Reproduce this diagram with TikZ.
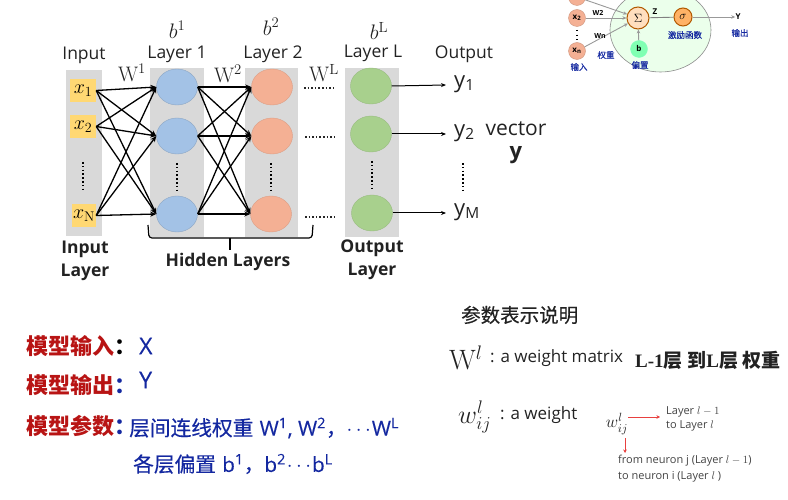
\documentclass[tikz,border=0pt]{standalone}
\usepackage{fix-cm}
\usepackage{fontspec}
\setsansfont{Open Sans}
\newfontfamily\cjk{Noto Sans CJK SC}
\newfontfamily\cjkm[FakeBold=0.35]{Noto Sans CJK SC}
\newfontfamily\opensm[FakeBold=0.35]{Open Sans}
\newfontfamily\serifb{Liberation Serif}
\usetikzlibrary{shapes.geometric,arrows.meta}
\newcommand{\fs}[1]{\fontsize{#1}{#1}\selectfont}
\definecolor{panel}{HTML}{D9D9D9}
\definecolor{bluefill}{HTML}{A3C2E6}
\definecolor{orangefill}{HTML}{F4B094}
\definecolor{greenfill}{HTML}{A8D08D}
\definecolor{yellowfill}{HTML}{FFD873}
\definecolor{redtxt}{HTML}{B81414}
\definecolor{bluetxt}{HTML}{1428A0}
\definecolor{inktxt}{HTML}{222222}
\definecolor{redline}{HTML}{E8403F}
\tikzset{
  panelbox/.style={fill=panel,draw=none},
  neuron/.style={ellipse,minimum width=41pt,minimum height=36pt,inner sep=0pt},
  bluen/.style={neuron,fill=bluefill,draw=bluefill!85!black},
  orangen/.style={neuron,fill=orangefill,draw=orangefill!90!black},
  greenn/.style={neuron,fill=greenfill,draw=greenfill!90!black},
  inbox/.style={fill=yellowfill,draw=none,minimum width=26pt,minimum height=23pt,inner sep=0pt,font=\fs{20}},
  lab/.style={inner sep=0pt,font=\sffamily\fs{17.5},text=inktxt},
  blab/.style={inner sep=0pt,font=\sffamily\bfseries\fs{17.5},text=inktxt},
  mth/.style={inner sep=0pt,font=\fs{21},text=inktxt},
  link/.style={black,line width=1.3pt,-{Stealth[length=6pt,width=5pt]}},
  outlink/.style={black,line width=1pt,-{Stealth[length=5pt,width=4pt]}},
  vdots/.style={black,line width=1.6pt,dash pattern=on 1.6pt off 2.2pt},
  hdots/.style={black!85,line width=1.3pt,dash pattern=on 1.5pt off 2.1pt},
  redtitle/.style={inner sep=0pt,anchor=west,font=\cjk\bfseries\fs{22},text=redtxt},
  bluetext/.style={inner sep=0pt,anchor=west,font=\fs{20.7},text=bluetxt},
  sm/.style={inner sep=0pt,anchor=west,font=\sffamily\fs{11},text=inktxt!85},
  tinyblue/.style={inner sep=0pt,font=\cjkm\fs{8.5},text=bluetxt},
  tinyn/.style={circle,inner sep=0pt,minimum size=17pt,fill=orangefill,draw=orangefill!85!black,font=\sffamily\bfseries\fs{8}},
  tinylink/.style={black!40,line width=0.9pt,-{Stealth[length=4pt,width=3.5pt]}},
  redarrow/.style={redline,line width=1pt,-{Stealth[length=3.5pt,width=3.5pt]}},
}
\begin{document}
\begin{tikzpicture}[x=1pt,y=-1pt]
\useasboundingbox (0,0) rectangle (788,500);
\clip (0,0) rectangle (788,500);
% panels
\fill[panelbox] (66,70) rectangle (102,236);
\fill[panelbox] (150,68) rectangle (204,237);
\fill[panelbox] (245,68) rectangle (298,237);
\fill[panelbox] (345,68) rectangle (399,237);
% inputs
\node[inbox] (x1) at (83,90.5) {$x_1$};
\node[inbox] (x2) at (83,126.5) {$x_2$};
\node[inbox,minimum width=24pt] (xN) at (84,215.5) {$x_{\mathrm N}$};
% neurons
\node[bluen] (a1) at (177,87) {};
\node[bluen] (a2) at (177,136) {};
\node[bluen] (a3) at (177,214) {};
\node[orangen] (b1) at (272,87) {};
\node[orangen] (b2) at (272,136) {};
\node[orangen] (b3) at (271,214) {};
\node[greenn] (c1) at (371,86) {};
\node[greenn] (c2) at (371,134) {};
\node[greenn] (c3) at (372,213) {};
% connectors
\foreach \s in {x1,x2,xN}{\foreach \t in {a1,a2,a3}{\draw[link] (\s.east) -- (\t.west);}}
\foreach \s in {a1,a2,a3}{\foreach \t in {b1,b2,b3}{\draw[link] (\s.east) -- (\t.west);}}
% outputs
\node[inner sep=0pt,anchor=west,font=\sffamily\fs{22},text=inktxt] (y1) at (454,84) {y\textsubscript{1}};
\node[inner sep=0pt,anchor=west,font=\sffamily\fs{22},text=inktxt] (y2) at (454,133) {y\textsubscript{2}};
\node[inner sep=0pt,anchor=west,font=\sffamily\fs{22},text=inktxt] (yM) at (454,212) {y\textsubscript{M}};
\coordinate (e1) at (446,85);
\coordinate (e2) at (446,134);
\coordinate (e3) at (446,213);
\draw[outlink] (c1.east) -- (e1);
\draw[outlink] (c2.east) -- (e2);
\draw[outlink] (c3.east) -- (e3);
% dots
\draw[vdots] (83,162) -- (83,189);
\draw[vdots] (177,163) -- (177,190);
\draw[vdots] (271,163) -- (271,190);
\draw[vdots] (372,161) -- (372,188);
\draw[vdots] (463,163) -- (463,190);
\draw[hdots] (304,88) -- (335,88);
\draw[hdots] (305,137) -- (337,137);
\draw[hdots] (305,217) -- (337,217);
% brace
\draw[black,line width=1.2pt,rounded corners=3pt] (148,225) -- (149,238) -- (312,238) -- (313,225);
\draw[black,line width=1.2pt] (230,238) -- (230,250);
% headings
\node[lab] (hin) at (84,55) {Input};
\node[lab] (hl1) at (177,54) {Layer 1};
\node[lab] (hl2) at (273,54) {Layer 2};
\node[lab] (hll) at (373,53) {Layer L};
\node[lab] (hout) at (464,54) {Output};
\node[mth] (m1) at (177,30) {$b^{1}$};
\node[mth] (m2) at (271,27) {$b^{2}$};
\node[mth] (m3) at (379,31) {$b^{\mathrm L}$};
\node[mth] (w1) at (132,73) {$\mathrm{W}^{1}$};
\node[mth] (w2) at (228,74) {$\mathrm{W}^{2}$};
\node[mth] (w3) at (324,73) {$\mathrm{W}^{\mathrm L}$};
\node[blab] (il1) at (85,249) {Input};
\node[blab] (il2) at (85,272) {Layer};
\node[blab] (hid) at (228,262) {Hidden Layers};
\node[blab] (ol1) at (372,248) {Output};
\node[blab] (ol2) at (372,271) {Layer};
\node[inner sep=0pt,font=\sffamily\fs{21},text=inktxt] (vec) at (516,129) {vector};
\node[inner sep=0pt,font=\sffamily\bfseries\fs{22},text=inktxt] (vecy) at (516,155) {y};
% neuron sketch
\draw[draw=black!45,fill=green!8!white,line width=0.6pt] (660.5,30) ellipse (50.5pt and 42pt);
\node[tinyn,minimum size=22pt,fill=orange!25!white,draw=orange!70!black,line width=1pt,font=\fs{12}] (sum) at (638,18) {$\Sigma$};
\node[tinyn,minimum size=18pt,fill=orange!60!white,draw=orange!70!black,line width=1pt,font=\fs{12}] (sig) at (683,17) {$\sigma$};
\node[tinyn,fill=green!60!cyan!50!white,draw=green!50!cyan!50!white] (bb) at (639,49) {b};
\node[tinyn] (tx1) at (577,-3) {};
\node[tinyn] (tx2) at (577,18) {x\textsubscript{2}};
\node[tinyn] (txn) at (577,51) {x\textsubscript{n}};
\node[inner sep=0pt,font=\sffamily\bfseries\fs{8}] (ty) at (738,17) {Y};
\draw[tinylink] (tx1) -- (sum);
\draw[tinylink] (tx2) -- (sum);
\draw[tinylink] (txn) -- (sum);
\draw[tinylink] (bb) -- (sum);
\draw[black!50,line width=0.9pt] (sum) -- (sig);
\draw[tinylink] (sig) -- (ty);
\draw[black,line width=1.2pt,dash pattern=on 1.2pt off 3.5pt] (577,30) -- (577,40);
\node[inner sep=0pt,font=\sffamily\bfseries\fs{7}] (lw2) at (598,13) {W2};
\node[inner sep=0pt,font=\sffamily\bfseries\fs{7}] (lwn) at (600,36) {Wn};
\node[inner sep=0pt,font=\sffamily\bfseries\fs{8}] (lz) at (655,12) {Z};
\node[tinyblue] at (606,55) {权重};
\node[tinyblue] at (579,67) {输入};
\node[tinyblue] at (640,65) {偏置};
\node[tinyblue] at (685,35) {激励函数};
\node[tinyblue] at (740,33) {输出};
% left bottom
\node[redtitle] (t1) at (26,346) {模型输入\textcolor{black}{：}};
\node[redtitle] (t2) at (26,385) {模型输出\textcolor{bluetxt}{：}};
\node[redtitle] (t3) at (26,426) {模型参数\textcolor{bluetxt}{：}};
\node[bluetext,font=\opensm\fs{23}] (vx) at (139,346) {X};
\node[bluetext,font=\opensm\fs{23}] (vy) at (139,380) {Y};
\node[bluetext] (p1) at (129,428) {{\cjkm 层间连线权重} \opensm W\textsuperscript{1}, W\textsuperscript{2}{\cjkm ，}$\cdots$\hspace{1pt}W\textsuperscript{L}};
\node[bluetext] (p2) at (133,464) {{\cjkm 各层偏置} \opensm b\textsuperscript{1}{\cjkm ，}b\textsuperscript{2}\hspace{1pt}$\cdots$\hspace{1pt}b\textsuperscript{L}};
% right bottom
\node[inner sep=0pt,anchor=west,font=\cjkm\fs{19.5},text=inktxt] (rh) at (461,315) {参数表示说明};
\node[inner sep=0pt,anchor=west,font=\fs{28},text=inktxt] (wm) at (449,358) {$\mathrm{W}^{l}$};
\node[inner sep=0pt,anchor=west,font=\sffamily\fs{17},text=inktxt] (wmt) at (490,358) {: a weight matrix};
\node[inner sep=0pt,anchor=west,font=\serifb\bfseries\fs{19},text=inktxt] (wmc) at (635,360) {L-1{\cjk 层} {\cjk 到}L{\cjk 层} {\cjk 权重}};
\node[inner sep=0pt,anchor=west,font=\fs{26},text=inktxt] (wa) at (458,417) {$w_{ij}^{l}$};
\node[inner sep=0pt,anchor=west,font=\sffamily\fs{17},text=inktxt] (wat) at (500,415) {: a weight};
\node[inner sep=0pt,font=\fs{17},text=inktxt] (ws) at (617,424) {$w_{ij}^{l}$};
\node[sm] (l1) at (666,412) {Layer $l-1$};
\node[sm] (l2) at (666,426) {to Layer  $l$};
\node[sm] (n1) at (618,461) {from neuron j  (Layer $l-1$)};
\node[sm] (n2) at (618,477) {to neuron i   (Layer $l$ )};
\coordinate (ra) at (628,417);
\coordinate (rb) at (660,417);
\coordinate (rc) at (625,438);
\coordinate (rd) at (625,453);
\draw[redarrow] (ra) -- (rb);
\draw[redarrow] (rc) -- (rd);
\end{tikzpicture}
\end{document}
